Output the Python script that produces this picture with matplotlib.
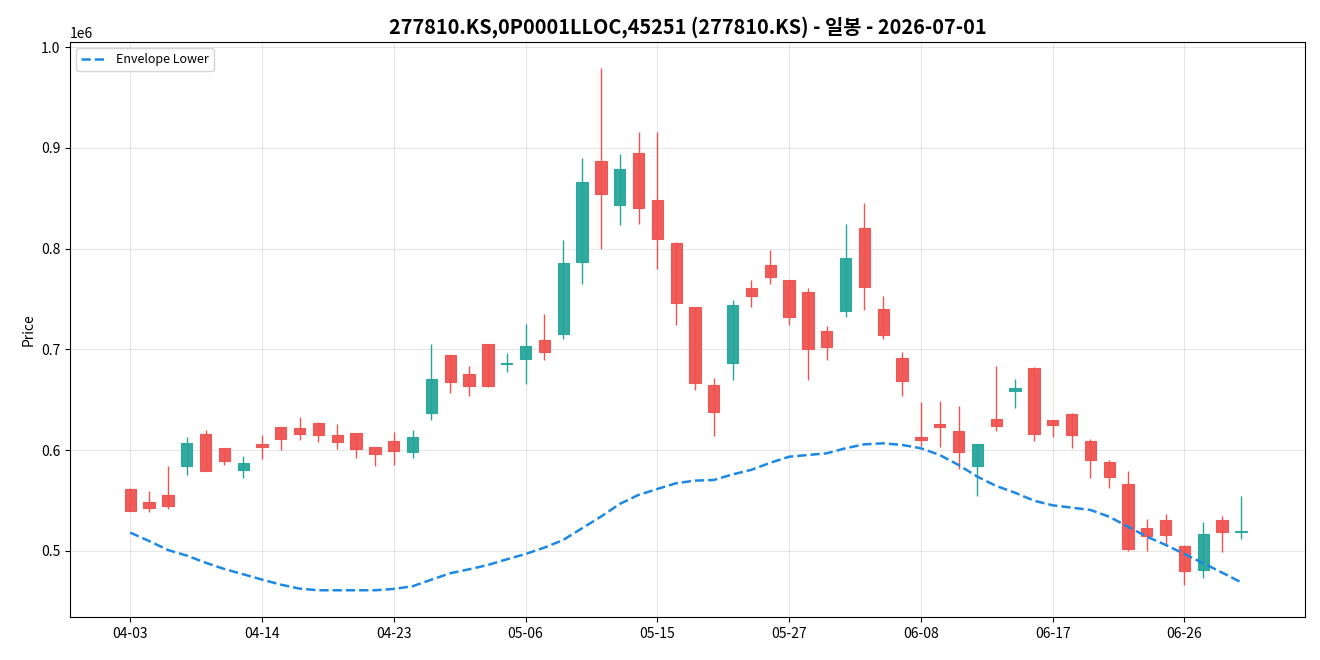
import numpy as np
import matplotlib
matplotlib.use("Agg")
import matplotlib.pyplot as plt

plt.rcParams['font.family'] = ['Noto Sans CJK KR', 'DejaVu Sans']

# trading days (MM-DD)
dates = ["04-03", "04-06", "04-07", "04-08", "04-09", "04-10", "04-13", "04-14",
         "04-15", "04-16", "04-17", "04-20", "04-21", "04-22", "04-23",
         "04-24", "04-27", "04-28", "04-29", "04-30", "05-04", "05-06",
         "05-07", "05-08", "05-11", "05-12", "05-13", "05-14", "05-15",
         "05-18", "05-19", "05-20", "05-21", "05-22", "05-26", "05-27",
         "05-28", "05-29", "06-01", "06-02", "06-04", "06-05", "06-08",
         "06-09", "06-10", "06-11", "06-12", "06-15", "06-16", "06-17",
         "06-18", "06-19", "06-22", "06-23", "06-24", "06-25", "06-26",
         "06-29", "06-30", "07-01"]

opens = [561500, 548300, 555200, 584000, 616000, 601900, 580000, 606000, 622700, 621700,
         626700, 614800, 616800, 603000, 608800, 598500, 637200, 694100, 675300, 705000,
         685300, 690200, 709300, 715000, 786400, 886600, 843600, 894500, 847900, 805300,
         741800, 664400, 686200, 760600, 783400, 768800, 756600, 718000, 737800, 820200,
         739800, 691200, 612800, 625700, 619000, 584600, 630700, 658400, 681200, 629700,
         635600, 608800, 588000, 566200, 522500, 530500, 504600, 480800, 530500, 518700]
highs = [562000, 559500, 584000, 613000, 620000, 601900, 594000, 615000, 622700, 633000,
         628000, 626000, 616800, 603000, 618000, 620000, 705400, 694100, 683500, 705000,
         696000, 725200, 735000, 808500, 889900, 979200, 893800, 915600, 915600, 806500,
         741800, 671600, 749000, 768800, 798600, 768800, 760900, 723500, 824400, 845400,
         753000, 697400, 647800, 648800, 643800, 605800, 683900, 670600, 682800, 629700,
         637200, 611100, 590300, 579400, 531700, 536700, 506000, 528800, 535000, 554900]
lows = [539500, 539000, 541700, 575400, 579000, 585600, 572700, 591300, 600000, 610000,
        608000, 601000, 592000, 584300, 585300, 592000, 630000, 656700, 653800, 663000,
        677600, 665700, 689500, 710600, 764900, 799900, 823700, 824700, 779800, 724200,
        659700, 614400, 669600, 742400, 764900, 724200, 669600, 689500, 732400, 739500,
        710600, 653800, 604200, 603500, 581700, 554900, 619400, 642200, 609400, 613400,
        602500, 572700, 562800, 500000, 500000, 506900, 466300, 473200, 499000, 512200]
closes = [540000, 542300, 545000, 607000, 579000, 589000, 587300, 603000, 610800, 615800,
          614800, 607800, 601000, 596000, 599500, 612800, 670600, 668000, 664000, 664000,
          686300, 703000, 697100, 785400, 865800, 854500, 878700, 840600, 809800, 745700,
          666400, 637600, 743700, 753300, 771500, 731700, 700100, 702100, 790400, 762300,
          714000, 668200, 609800, 622700, 597900, 605800, 623700, 661400, 615800, 624700,
          614800, 590000, 573100, 502300, 514600, 515600, 480200, 516900, 518600, 519700]
env_lower = [518200, 509900, 501000, 495400, 488400, 482100, 476900, 471600, 466600, 462600,
             461000, 461000, 461000, 461000, 462300, 465000, 471500, 477900, 481800, 486100,
             491700, 497000, 503300, 510900, 522500, 534000, 546600, 555600, 561500, 567200,
             569800, 570400, 576000, 580500, 587500, 593500, 595200, 596900, 601900, 605800,
             606800, 605200, 601900, 595200, 585300, 573700, 564500, 557800, 549900, 545300,
             543000, 540700, 534000, 524100, 514200, 506000, 497000, 487800, 478500, 469000]

title = "277810.KS,0P0001LLOC,45251 (277810.KS) - 일봉 - 2026-07-01"

up_color = "#26a69a"
down_color = "#ef5350"

x = np.arange(len(dates))
o = np.array(opens)
c = np.array(closes)
up = c >= o
cols = np.where(up, up_color, down_color)

fig, ax = plt.subplots(figsize=(13.2, 6.6), dpi=100)
fig.subplots_adjust(left=0.053, right=0.9886, top=0.9364, bottom=0.0652)

# wicks
ax.vlines(x, lows, highs, colors=cols, linewidth=1, zorder=2)
# bodies
bottom = np.minimum(o, c)
height = np.maximum(np.abs(c - o), 1500)
ax.bar(x, height, bottom=bottom, width=0.6, color=cols, edgecolor=cols,
       linewidth=0.8, alpha=0.95, zorder=3)

ax.plot(x, env_lower, color="#1e88e5", linestyle="--", linewidth=1.8,
        label="Envelope Lower", zorder=4)

ax.set_xticks(x[::7])
ax.set_xticklabels(dates[::7])
ax.set_xlim(-3.2, 62.4)
ax.set_ylim(434500, 1005000)
ax.set_ylabel("Price")
ax.set_title(title, fontsize=14.3, fontweight="bold")
ax.grid(True, alpha=0.3)
ax.legend(loc="upper left", fontsize=9)

plt.savefig("out.png")
